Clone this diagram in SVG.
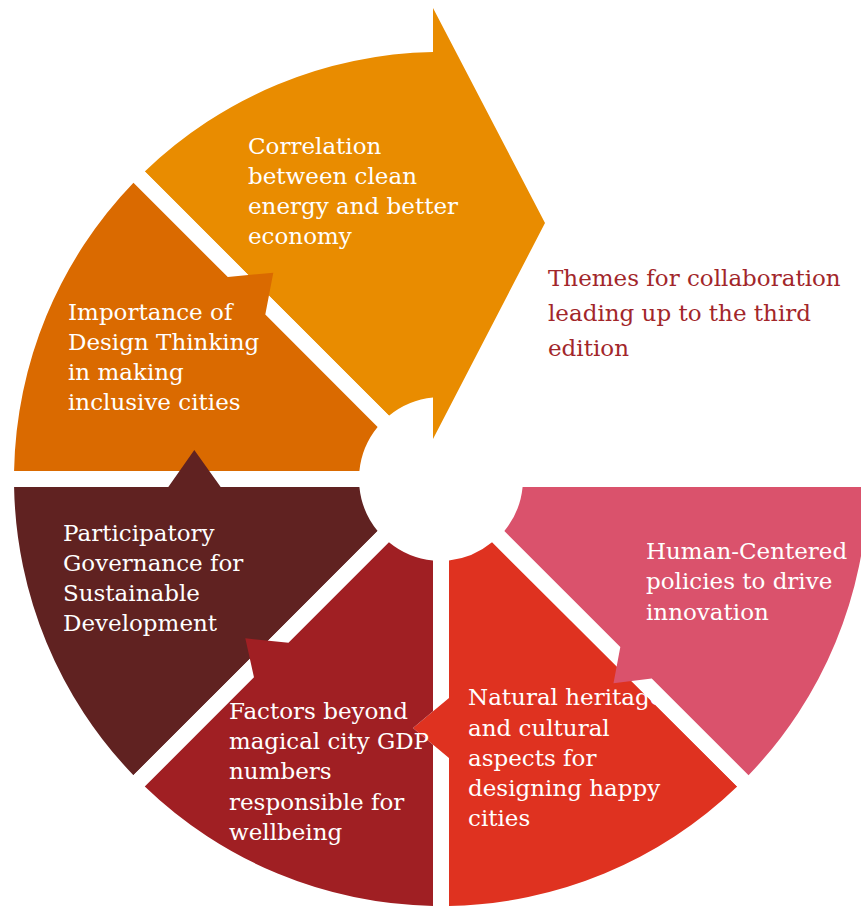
<svg xmlns="http://www.w3.org/2000/svg" width="861" height="907" viewBox="0 0 861 907">
<style>
.t{font-family:"DejaVu Serif","Liberation Serif",serif;font-size:23px;fill:#ffffff}
.title{font-family:"DejaVu Serif","Liberation Serif",serif;font-size:23px;fill:#A2262A}
.gap{stroke:#ffffff;stroke-width:16;fill:none}
</style>
<rect width="861" height="907" fill="#ffffff"/>
<g id="connectors"></g>
<g id="node-orange">
<path fill="#E98C00" d="M144.78 171.46 A427 427 0 0 1 433 52.08 L433 8 L545 223 L433 439 L433 397.39 A82 82 0 0 0 388.95 415.64 Z"/>
<text class="t" x="248" y="154">Correlation</text>
<text class="t" x="248" y="184">between clean</text>
<text class="t" x="248" y="214">energy and better</text>
<text class="t" x="248" y="244">economy</text>
</g>
<g id="node-darkorange">
<line class="gap" x1="441" y1="479" x2="120" y2="158"/>
<path fill="#DA6A00" d="M14.08 471 A427 427 0 0 1 133.46 182.77 L227.8 277.1 L273.3 272.7 L265.3 314.6 L377.63 426.95 A82 82 0 0 0 359.39 471 Z"/>
<text class="t" x="68" y="320">Importance of</text>
<text class="t" x="68" y="350">Design Thinking</text>
<text class="t" x="68" y="380">in making</text>
<text class="t" x="68" y="410">inclusive cities</text>
</g>
<g id="node-brown">
<line class="gap" x1="441" y1="479" x2="0" y2="479"/>
<path fill="#602221" d="M133.46 775.22 A427 427 0 0 1 14.08 487 L168.3 487 L194.3 450 L220.7 487 L359.39 487 A82 82 0 0 0 377.64 531.05 Z"/>
<text class="t" x="63" y="541">Participatory</text>
<text class="t" x="63" y="571">Governance for</text>
<text class="t" x="63" y="601">Sustainable</text>
<text class="t" x="63" y="631">Development</text>
</g>
<g id="node-red">
<path fill="#DF3220" d="M737.22 786.54 A427 427 0 0 1 449 905.93 L449 758 L413 728 L449 698 L449 560.61 A82 82 0 0 0 492.05 542.36 Z"/>
<text class="t" x="468" y="705">Natural heritage</text>
<text class="t" x="468" y="736">and cultural</text>
<text class="t" x="468" y="766">aspects for</text>
<text class="t" x="468" y="796">designing happy</text>
<text class="t" x="468" y="826">cities</text>
</g>
<g id="node-darkred">
<line class="gap" x1="441" y1="479" x2="120" y2="800"/>
<path fill="#A01F23" d="M433 905.93 A427 427 0 0 1 144.78 786.54 L253.98 677.34 L245.3 638.3 L288.48 642.84 L388.95 542.36 A82 82 0 0 0 433 560.61 L433 711.33 L413 728 L433 744.67 Z"/>
<text class="t" x="229" y="719">Factors beyond</text>
<text class="t" x="229" y="749" textLength="200" lengthAdjust="spacingAndGlyphs">magical city GDP</text>
<text class="t" x="229" y="779">numbers</text>
<text class="t" x="229" y="810">responsible for</text>
<text class="t" x="229" y="840">wellbeing</text>
</g>
<g id="node-pink">
<line class="gap" x1="441" y1="479" x2="780" y2="818"/>
<path fill="#DA526C" d="M867.93 487 A427 427 0 0 1 748.54 775.22 L651.72 678.4 L613.5 683.3 L620.32 647 L504.36 531.05 A82 82 0 0 0 522.61 487 Z"/>
<text class="t" x="646" y="559">Human-Centered</text>
<text class="t" x="646" y="589">policies to drive</text>
<text class="t" x="646" y="620">innovation</text>
</g>
<g id="title">
<text class="title" x="548" y="286">Themes for collaboration</text>
<text class="title" x="548" y="321">leading up to the third</text>
<text class="title" x="548" y="356">edition</text>
</g>
</svg>
